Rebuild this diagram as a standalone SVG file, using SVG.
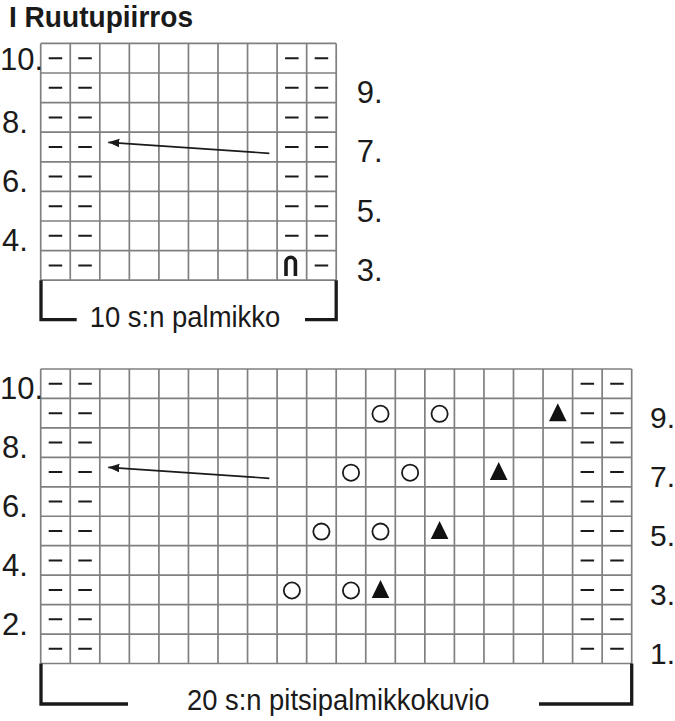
<svg xmlns="http://www.w3.org/2000/svg" width="675" height="721" viewBox="0 0 675 721">
<style>
.bg{fill:#ffffff}
.grid{fill:none;stroke:#808080;stroke-width:1.7}
.dash{fill:none;stroke:#1a1a1a;stroke-width:2}
.yo{fill:none;stroke:#1a1a1a;stroke-width:1.8}
.tri{fill:#111111}
.cab{fill:none;stroke:#1a1a1a;stroke-width:3.6}
.brk{fill:none;stroke:#1a1a1a;stroke-width:3.3;stroke-linejoin:miter}
.lbl{font-family:"Liberation Sans",Arial,sans-serif;font-size:31px;fill:#1a1a1a}
.lr{font-family:"Liberation Sans",Arial,sans-serif;font-size:30px;fill:#1a1a1a}
.cap{font-family:"Liberation Sans",Arial,sans-serif;font-size:30px;fill:#1a1a1a}
.ttl{font-family:"Liberation Sans",Arial,sans-serif;font-size:29px;font-weight:bold;fill:#1a1a1a}
.arr{fill:none;stroke:#1a1a1a;stroke-width:1.7}
</style>
<defs>
<marker id="ah" markerUnits="userSpaceOnUse" viewBox="0 -5 12 10" refX="11" refY="0" markerWidth="12" markerHeight="10" orient="auto">
<path d="M0,-4.3 L11,0 L0,4.3 Z" fill="#1a1a1a"/>
</marker>
<path id="tr" d="M0,-9.5 L8.8,8.5 L-8.8,8.5 Z"/>
</defs>
<rect class="bg" x="0" y="0" width="675" height="721"/>

<g id="title">
<text class="ttl" x="9" y="26.5" textLength="184" lengthAdjust="spacingAndGlyphs">I Ruutupiirros</text>
</g>

<g id="chart1">
<path class="grid" d="M40.7 43.4V280.2M70.25 43.4V280.2M99.8 43.4V280.2M129.35 43.4V280.2M158.9 43.4V280.2M188.45 43.4V280.2M218 43.4V280.2M247.55 43.4V280.2M277.1 43.4V280.2M306.65 43.4V280.2M336.2 43.4V280.2M40.7 43.4H336.2M40.7 73H336.2M40.7 102.6H336.2M40.7 132.2H336.2M40.7 161.8H336.2M40.7 191.4H336.2M40.7 221H336.2M40.7 250.6H336.2M40.7 280.2H336.2"/>
<path class="dash" d="M48.7 58.2h13.5M78.3 58.2h13.5M285.1 58.2h13.5M314.7 58.2h13.5M48.7 87.8h13.5M78.3 87.8h13.5M285.1 87.8h13.5M314.7 87.8h13.5M48.7 117.4h13.5M78.3 117.4h13.5M285.1 117.4h13.5M314.7 117.4h13.5M48.7 147h13.5M78.3 147h13.5M285.1 147h13.5M314.7 147h13.5M48.7 176.6h13.5M78.3 176.6h13.5M285.1 176.6h13.5M314.7 176.6h13.5M48.7 206.2h13.5M78.3 206.2h13.5M285.1 206.2h13.5M314.7 206.2h13.5M48.7 235.8h13.5M78.3 235.8h13.5M285.1 235.8h13.5M314.7 235.8h13.5M48.7 265.4h13.5M78.3 265.4h13.5M314.7 265.4h13.5"/>
<path class="cab" d="M286 276V262A4.7 4.7 0 0 1 295.4 262V276"/>
<text class="lbl" x="0" y="70">10.</text>
<text class="lbl" x="2" y="132.7">8.</text>
<text class="lbl" x="2" y="191.9">6.</text>
<text class="lbl" x="2" y="251.1">4.</text>
<text class="lbl" x="356.7" y="103.1">9.</text>
<text class="lbl" x="356.7" y="162.3">7.</text>
<text class="lbl" x="356.7" y="221.5">5.</text>
<text class="lbl" x="356.7" y="280.7">3.</text>
<path class="brk" d="M41 280.2V319.7H76.7M305 319.7H336.2V280.2"/>
<text class="cap" x="89.7" y="326.5" textLength="190.6" lengthAdjust="spacingAndGlyphs">10 s:n palmikko</text>
</g>

<g id="chart2">
<path class="grid" d="M40.7 369V663.5M70.25 369V663.5M99.8 369V663.5M129.35 369V663.5M158.9 369V663.5M188.45 369V663.5M218 369V663.5M247.55 369V663.5M277.1 369V663.5M306.65 369V663.5M336.2 369V663.5M365.75 369V663.5M395.3 369V663.5M424.85 369V663.5M454.4 369V663.5M483.95 369V663.5M513.5 369V663.5M543.05 369V663.5M572.6 369V663.5M602.15 369V663.5M631.7 369V663.5M40.7 369H631.7M40.7 398.45H631.7M40.7 427.9H631.7M40.7 457.35H631.7M40.7 486.8H631.7M40.7 516.25H631.7M40.7 545.7H631.7M40.7 575.15H631.7M40.7 604.6H631.7M40.7 634.05H631.7M40.7 663.5H631.7"/>
<path class="dash" d="M48.7 383.7h13.5M78.3 383.7h13.5M580.6 383.7h13.5M610.2 383.7h13.5M48.7 413.2h13.5M78.3 413.2h13.5M580.6 413.2h13.5M610.2 413.2h13.5M48.7 442.6h13.5M78.3 442.6h13.5M580.6 442.6h13.5M610.2 442.6h13.5M48.7 472.1h13.5M78.3 472.1h13.5M580.6 472.1h13.5M610.2 472.1h13.5M48.7 501.5h13.5M78.3 501.5h13.5M580.6 501.5h13.5M610.2 501.5h13.5M48.7 531h13.5M78.3 531h13.5M580.6 531h13.5M610.2 531h13.5M48.7 560.4h13.5M78.3 560.4h13.5M580.6 560.4h13.5M610.2 560.4h13.5M48.7 589.9h13.5M78.3 589.9h13.5M580.6 589.9h13.5M610.2 589.9h13.5M48.7 619.3h13.5M78.3 619.3h13.5M580.6 619.3h13.5M610.2 619.3h13.5M48.7 648.8h13.5M78.3 648.8h13.5M580.6 648.8h13.5M610.2 648.8h13.5"/>
<circle class="yo" cx="380.5" cy="413.8" r="8.1"/>
<circle class="yo" cx="439.6" cy="413.8" r="8.1"/>
<circle class="yo" cx="351" cy="472.7" r="8.1"/>
<circle class="yo" cx="410.1" cy="472.7" r="8.1"/>
<circle class="yo" cx="321.4" cy="531.6" r="8.1"/>
<circle class="yo" cx="380.5" cy="531.6" r="8.1"/>
<circle class="yo" cx="291.9" cy="590.5" r="8.1"/>
<circle class="yo" cx="351" cy="590.5" r="8.1"/>
<use href="#tr" class="tri" x="557.8" y="412.7"/>
<use href="#tr" class="tri" x="498.7" y="471.6"/>
<use href="#tr" class="tri" x="439.6" y="530.5"/>
<use href="#tr" class="tri" x="380.5" y="589.4"/>
<text class="lbl" x="0" y="398.5">10.</text>
<text class="lbl" x="2" y="457.8">8.</text>
<text class="lbl" x="2" y="516.7">6.</text>
<text class="lbl" x="2" y="575.6">4.</text>
<text class="lbl" x="2" y="634.5">2.</text>
<text class="lr" x="650" y="428.4">9.</text>
<text class="lr" x="650" y="487.3">7.</text>
<text class="lr" x="650" y="546.2">5.</text>
<text class="lr" x="650" y="605.1">3.</text>
<text class="lr" x="650" y="664">1.</text>
<path class="brk" d="M41 663.5V704H128M539 704H631.7V663.5"/>
<text class="cap" x="187" y="710" textLength="302.5" lengthAdjust="spacingAndGlyphs">20 s:n pitsipalmikkokuvio</text>
</g>

<g id="connectors">
<path class="arr" d="M269.3 153.3L108.3 142.3" marker-end="url(#ah)"/>
<path class="arr" d="M269.3 478.3L108.3 467.3" marker-end="url(#ah)"/>
</g>
</svg>
